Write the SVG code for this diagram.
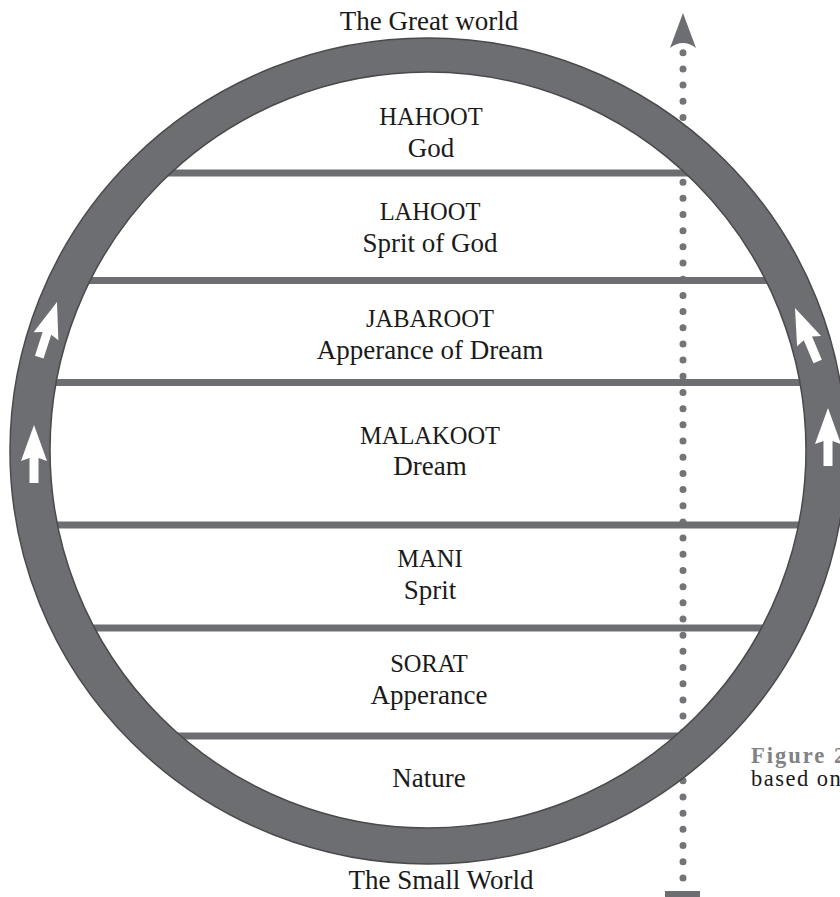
<svg xmlns="http://www.w3.org/2000/svg" width="840" height="897" viewBox="0 0 840 897">
  <style>
    .lbl { font-family: "Liberation Serif", "Times New Roman", serif; fill: #1a1a1a; text-anchor: middle; }
    .cap { font-size: 24.5px; }
    .low { font-size: 27px; }
    .bar { fill: #6d6e71; }
    .ring { fill: #6d6e71; stroke: #4a4a4c; stroke-width: 1.5; fill-rule: evenodd; }
    .flow { fill: #ffffff; }
    .axis { stroke: #737477; stroke-width: 7; stroke-linecap: round; stroke-dasharray: 0 16.18; fill: none; }
    .cap-fig { font-family: "Liberation Serif", serif; font-size: 22.5px; }
  </style>
  <defs>
    <clipPath id="inside">
      <circle cx="428" cy="450" r="381"/>
    </clipPath>
    <path id="upArrow" d="M0,0 L13,36 L4.5,33 L4.5,58 L-4.5,58 L-4.5,33 L-13,36 Z"/>
  </defs>

  <rect width="840" height="897" fill="#ffffff"/>

  <!-- vertical dotted axis with arrowhead and base bar -->
  <g id="connectors">
    <line class="axis" x1="683" y1="52.7" x2="683" y2="878"/>
    <path d="M683,13 L696,48 Q683,38 670,48 Z" fill="#6d6e71"/>
    <rect x="665" y="891" width="35" height="6" fill="#6d6e71"/>
  </g>

  <!-- level dividers -->
  <g id="dividers" clip-path="url(#inside)">
    <rect class="bar" x="0" y="169.5" width="840" height="7"/>
    <rect class="bar" x="0" y="277" width="840" height="7"/>
    <rect class="bar" x="0" y="379" width="840" height="7"/>
    <rect class="bar" x="0" y="521.5" width="840" height="7"/>
    <rect class="bar" x="0" y="624.5" width="840" height="7"/>
    <rect class="bar" x="0" y="732.5" width="840" height="7"/>
  </g>

  <!-- outer ring -->
  <g id="ring">
    <path class="ring" d="M10,451 A418,413 0 1,0 846,451 A418,413 0 1,0 10,451 Z M50,450 A378,378 0 1,1 806,450 A378,378 0 1,1 50,450 Z"/>
    <use href="#upArrow" class="flow" transform="translate(34,425)"/>
    <use href="#upArrow" class="flow" transform="translate(57,302) rotate(17.8)"/>
    <use href="#upArrow" class="flow" transform="translate(828,408)"/>
    <use href="#upArrow" class="flow" transform="translate(795,308) rotate(-23)"/>
  </g>

  <g id="great-world"><text class="lbl low" x="429" y="30">The Great world</text></g>
  <g id="hahoot">
    <text class="lbl cap" x="431" y="125">HAHOOT</text>
    <text class="lbl low" x="431" y="157">God</text>
  </g>
  <g id="lahoot">
    <text class="lbl cap" x="430" y="220">LAHOOT</text>
    <text class="lbl low" x="430" y="252">Sprit of God</text>
  </g>
  <g id="jabaroot">
    <text class="lbl cap" x="430" y="327">JABAROOT</text>
    <text class="lbl low" x="430" y="359">Apperance of Dream</text>
  </g>
  <g id="malakoot">
    <text class="lbl cap" x="430" y="444">MALAKOOT</text>
    <text class="lbl low" x="430" y="475">Dream</text>
  </g>
  <g id="mani">
    <text class="lbl cap" x="430" y="567">MANI</text>
    <text class="lbl low" x="430" y="599">Sprit</text>
  </g>
  <g id="sorat">
    <text class="lbl cap" x="429" y="672">SORAT</text>
    <text class="lbl low" x="429" y="704">Apperance</text>
  </g>
  <g id="nature"><text class="lbl low" x="429" y="787">Nature</text></g>
  <g id="small-world"><text class="lbl low" x="441" y="889">The Small World</text></g>

  <g id="caption">
    <text class="cap-fig" x="751" y="763" font-weight="bold" fill="#808285" letter-spacing="2">Figure 2</text>
    <text class="cap-fig" x="751" y="786" fill="#1a1a1a" letter-spacing="1.5">based on</text>
  </g>
</svg>
